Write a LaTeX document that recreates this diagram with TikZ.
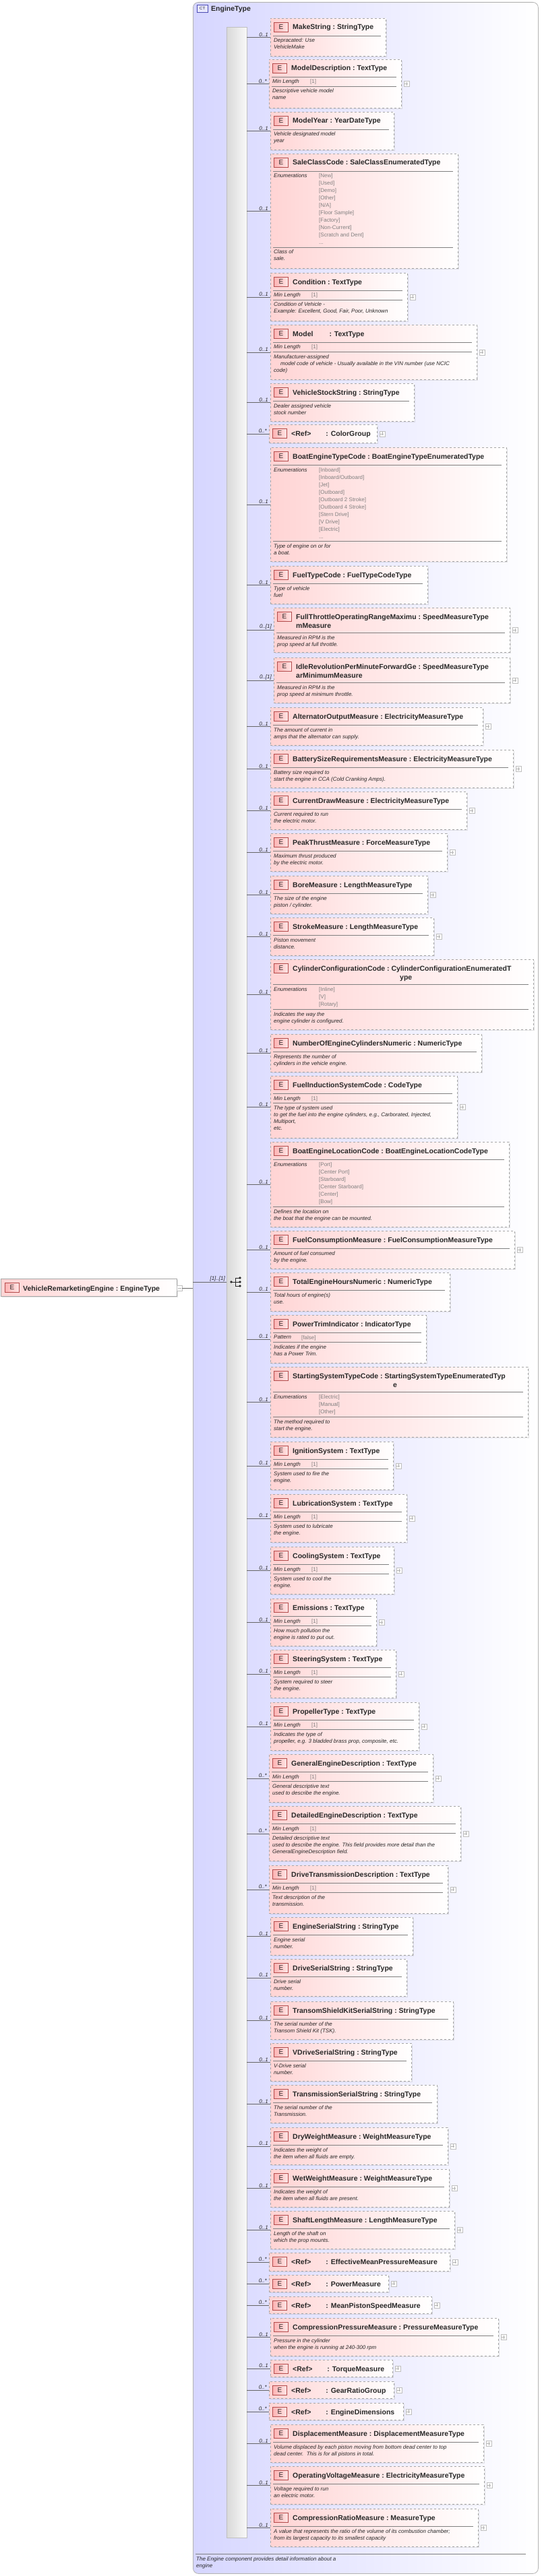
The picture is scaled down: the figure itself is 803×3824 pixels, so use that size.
\documentclass[tikz,border=0pt]{standalone}
\usepackage{fontspec}
\setmainfont{Liberation Sans}
\usetikzlibrary{shadows,calc}
\definecolor{pinkL}{RGB}{255,212,212}
\definecolor{lav}{RGB}{214,214,255}
\definecolor{txt}{RGB}{40,40,40}
\tikzset{
 x=1pt,y=-1pt,
 ebox/.style={draw=gray!70,dashed,line width=0.9pt,left color=pinkL,right color=white,inner sep=0pt,
   drop shadow={opacity=0.2,shadow xshift=2pt,shadow yshift=-2pt}},
 rootbox/.style={draw=gray!70,line width=0.9pt,left color=pinkL,right color=white,inner sep=0pt,
   drop shadow={opacity=0.2,shadow xshift=2pt,shadow yshift=-2pt}},
 eicon/.style={draw=red!40!gray,line width=0.7pt,left color=red!30,right color=red!10,minimum width=21pt,minimum height=14pt,inner sep=0pt,font=\fontsize{10}{10}\selectfont,text=txt},
 etitle/.style={inner sep=0pt,font=\fontsize{10.5}{13}\selectfont\bfseries,text=txt,align=left},
 edesc/.style={inner sep=0pt,font=\fontsize{8}{10}\selectfont\itshape,text=txt,align=left},
 eval/.style={inner sep=0pt,font=\fontsize{8}{11}\selectfont,text=gray,align=left},
 mult/.style={inner sep=1pt,font=\fontsize{8}{9}\selectfont\itshape,text=txt},
 conn/.style={draw=gray!80!black,line width=0.6pt},
 sep/.style={draw=gray,line width=0.7pt},
 plusbox/.style={draw=gray!50,fill=white,minimum size=8pt,inner sep=0pt,
   path picture={\draw[gray!60,line width=0.5pt] (path picture bounding box.west)++(1.5,0)--++(5,0);
                 \draw[gray!60,line width=0.5pt] (path picture bounding box.north)++(0,1.5)--++(0,5);}},
 minusbox/.style={draw=gray!50,fill=white,minimum size=8pt,inner sep=0pt,
   path picture={\draw[gray!60,line width=0.5pt] (path picture bounding box.west)++(1.5,0)--++(5,0);}},
}
\newcommand\en[1]{\relax[#1]}
% id, left, top, bottom, right, mult
\newcommand\EL[6]{%
 \node[ebox,anchor=north west,minimum width=#5-#2,minimum height=#4-#3] (#1) at (#2,#3) {};
 \draw[conn] (#1.west -| seq.east) -- (#1.west);
 \node[mult,anchor=south east] at ([xshift=-2pt]#1.west) {#6};
 \node[eicon,anchor=north west] at ([shift={(5,6)}]#1.north west) {E};}
\newcommand\ET[2]{\node[etitle,anchor=base west] at ([shift={(33,17)}]#1.north west) {#2};}
\newcommand\ETb[3]{\node[etitle,anchor=base west] at ([shift={(#2,30)}]#1.north west) {#3};}
\newcommand\EH[2]{\draw[sep] ([shift={(4,#2)}]#1.north west) -- ([shift={(-8,#2)}]#1.north east);}
\newcommand\EX[3]{\node[edesc,anchor=north west] at ([shift={(5,#2)}]#1.north west) {#3};}
\newcommand\EP[5]{\node[edesc,anchor=north west] at ([shift={(5,#2)}]#1.north west) {#3};
 \node[eval,anchor=north west] at ([shift={(#4,#2)}]#1.north west) {#5};}
\newcommand\EN[3]{\node[edesc,anchor=north west] at ([shift={(5,#2)}]#1.north west) {Enumerations};
 \node[eval,anchor=north west] at ([shift={(72,#2)}]#1.north west) {#3};}
\newcommand\PL[1]{\node[plusbox] at ([xshift=7pt]#1.east) {};}
\newcommand\SE[8]{\EL{#1}{#2}{#3}{#4}{#5}{#6}\ET{#1}{#7}\EH{#1}{26}\EX{#1}{30}{#8}}
\newcommand\ME[8]{\EL{#1}{#2}{#3}{#4}{#5}{#6}\ET{#1}{#7}\EH{#1}{26}\EP{#1}{30}{Min Length}{61}{\en{1}}\EH{#1}{40}\EX{#1}{44}{#8}}
\newcommand\RE[6]{\EL{#1}{#2}{#3}{#4}{#5}{#6}\ET{#1}{<Ref>\hspace{22pt}: #1}\PL{#1}}
\newcommand\cc{\ :\ }
\begin{document}
\begin{tikzpicture}
\useasboundingbox (0,0) rectangle (803,3824);
% container
\node[draw=gray!60,line width=0.8pt,rounded corners=8pt,left color=lav,right color=white,anchor=north west,minimum width=512,minimum height=3817,inner sep=0pt] (cont) at (286,3) {};
\node[draw=blue!40!gray,fill=lav!60,minimum width=16pt,minimum height=11pt,inner sep=0pt,anchor=north west,font=\fontsize{6}{6}\selectfont,text=txt] (cticon) at (292,7) {CT};
\node[etitle,anchor=base west] (ctname) at (313,17) {EngineType};
% sequence bar
\node[draw=gray!50,left color=gray!30,right color=gray!5,anchor=north west,minimum width=30,minimum height=3727,inner sep=0pt] (seq) at (336,40) {};
% root element
\node[rootbox,anchor=north west,minimum width=261,minimum height=26] (root) at (1,1898) {};
\node[eicon,anchor=north west] at ([shift={(6,6)}]root.north west) {E};
\node[etitle,anchor=base west] at ([shift={(33,18)}]root.north west) {VehicleRemarketingEngine\cc EngineType};
\node[minusbox] (rootm) at (266,1912) {};
\coordinate (cin) at (286,1912);
\coordinate (cin2) at (286,1903);
\coordinate (seqin) at (343,1903);
\draw[conn] (rootm.east) -- (cin);
\draw[conn] (cin2) -- (seq.west |- cin2);
\node[mult,anchor=south east] at (335,1903) {\en{1}..\en{1}};
% sequence symbol
\draw[line width=0.8pt,txt] (seqin) -- (349,1903) (349,1897) -- (349,1909) (349,1897) -- (355,1897) (349,1903) -- (355,1903) (349,1909) -- (355,1909);
\fill[txt] (seqin) circle (1.8) (356,1897) circle (1.8) (356,1903) circle (1.8) (356,1909) circle (1.8);

\SE{e1}{401}{27}{83}{572}{0..1}{MakeString\cc StringType}{Depracated: Use\\VehicleMake}
\ME{e2}{399}{88}{160}{595}{0..*}{ModelDescription\cc TextType}{Descriptive vehicle model\\name}\PL{e2}
\SE{e3}{401}{166}{222}{584}{0..1}{ModelYear\cc YearDateType}{Vehicle designated model\\year}
\EL{e4}{401}{228}{398}{679}{0..1}\ET{e4}{SaleClassCode\cc SaleClassEnumeratedType}\EH{e4}{26}
\EN{e4}{30}{\en{New}\\\en{Used}\\\en{Demo}\\\en{Other}\\\en{N/A}\\\en{Floor Sample}\\\en{Factory}\\\en{Non-Current}\\\en{Scratch and Dent}\\...}
\EH{e4}{139}\EX{e4}{143}{Class of\\sale.}
\ME{e5}{401}{405}{476}{604}{0..1}{Condition\cc TextType}{Condition of Vehicle -\\Example: Excellent, Good, Fair, Poor, Unknown}\PL{e5}
\ME{e6}{401}{482}{563}{707}{0..1}{Model\hspace{24pt}: TextType}{Manufacturer-assigned\\\hspace*{10pt}model code of vehicle - Usually available in the VIN number (use NCIC\\code)}\PL{e6}
\SE{e7}{401}{569}{625}{614}{0..1}{VehicleStockString\cc StringType}{Dealer assigned vehicle\\stock number}
\EL{ColorGroup}{399}{630}{657}{559}{0..*}\ET{ColorGroup}{<Ref>\hspace{22pt}: ColorGroup}\PL{ColorGroup}
\EL{e9}{401}{664}{833}{751}{0..1}\ET{e9}{BoatEngineTypeCode\cc BoatEngineTypeEnumeratedType}\EH{e9}{26}
\EN{e9}{30}{\en{Inboard}\\\en{Inboard/Outboard}\\\en{Jet}\\\en{Outboard}\\\en{Outboard 2 Stroke}\\\en{Outboard 4 Stroke}\\\en{Stern Drive}\\\en{V Drive}\\\en{Electric}\\...}
\EH{e9}{139}\EX{e9}{143}{Type of engine on or for\\a boat.}
\SE{e10}{401}{840}{896}{634}{0..1}{FuelTypeCode\cc FuelTypeCodeType}{Type of vehicle\\fuel}
\EL{e11}{406}{902}{968}{756}{0..\en{1}}\ET{e11}{FullThrottleOperatingRangeMaximu\cc SpeedMeasureType}\ETb{e11}{33}{mMeasure}
\EH{e11}{37}\EX{e11}{41}{Measured in RPM is the\\prop speed at full throttle.}\PL{e11}
\EL{e12}{406}{976}{1043}{756}{0..\en{1}}\ET{e12}{IdleRevolutionPerMinuteForwardGe\cc SpeedMeasureType}\ETb{e12}{33}{arMinimumMeasure}
\EH{e12}{37}\EX{e12}{41}{Measured in RPM is the\\prop speed at minimum throttle.}\PL{e12}
\SE{e13}{401}{1050}{1106}{716}{0..1}{AlternatorOutputMeasure\cc ElectricityMeasureType}{The amount of current in\\amps that the alternator can supply.}\PL{e13}
\SE{e14}{401}{1113}{1169}{761}{0..1}{BatterySizeRequirementsMeasure\cc ElectricityMeasureType}{Battery size required to\\start the engine in CCA (Cold Cranking Amps).}\PL{e14}
\SE{e15}{401}{1175}{1231}{692}{0..1}{CurrentDrawMeasure\cc ElectricityMeasureType}{Current required to run\\the electric motor.}\PL{e15}
\SE{e16}{401}{1237}{1293}{663}{0..1}{PeakThrustMeasure\cc ForceMeasureType}{Maximum thrust produced\\by the electric motor.}\PL{e16}
\SE{e17}{401}{1300}{1356}{634}{0..1}{BoreMeasure\cc LengthMeasureType}{The size of the engine\\piston / cylinder.}\PL{e17}
\SE{e18}{401}{1362}{1418}{643}{0..1}{StrokeMeasure\cc LengthMeasureType}{Piston movement\\distance.}\PL{e18}
\EL{e19}{401}{1424}{1528}{791}{0..1}\ET{e19}{CylinderConfigurationCode\cc CylinderConfigurationEnumeratedT}\ETb{e19}{192}{ype}
\EH{e19}{37}\EN{e19}{41}{\en{Inline}\\\en{V}\\\en{Rotary}}\EH{e19}{74}\EX{e19}{78}{Indicates the way the\\engine cylinder is configured.}
\SE{e20}{401}{1535}{1591}{714}{0..1}{NumberOfEngineCylindersNumeric\cc NumericType}{Represents the number of\\cylinders in the vehicle engine.}
\ME{e21}{401}{1597}{1689}{678}{0..1}{FuelInductionSystemCode\cc CodeType}{The type of system used\\to get the fuel into the engine cylinders, e.g., Carborated, Injected,\\Multiport,\\etc.}\PL{e21}
\EL{e22}{401}{1695}{1821}{755}{0..1}\ET{e22}{BoatEngineLocationCode\cc BoatEngineLocationCodeType}\EH{e22}{26}
\EN{e22}{30}{\en{Port}\\\en{Center Port}\\\en{Starboard}\\\en{Center Starboard}\\\en{Center}\\\en{Bow}}\EH{e22}{96}\EX{e22}{100}{Defines the location on\\the boat that the engine can be mounted.}
\SE{e23}{401}{1827}{1883}{763}{0..1}{FuelConsumptionMeasure\cc FuelConsumptionMeasureType}{Amount of fuel consumed\\by the engine.}\PL{e23}
\SE{e24}{401}{1889}{1946}{667}{0..1}{TotalEngineHoursNumeric\cc NumericType}{Total hours of engine(s)\\use.}
\EL{e25}{401}{1952}{2023}{632}{0..1}\ET{e25}{PowerTrimIndicator\cc IndicatorType}\EH{e25}{26}\EP{e25}{30}{Pattern}{46}{\en{false}}\EH{e25}{40}\EX{e25}{44}{Indicates if the engine\\has a Power Trim.}
\EL{e26}{401}{2029}{2133}{783}{0..1}\ET{e26}{StartingSystemTypeCode\cc StartingSystemTypeEnumeratedTyp}\ETb{e26}{182}{e}
\EH{e26}{37}\EN{e26}{41}{\en{Electric}\\\en{Manual}\\\en{Other}}\EH{e26}{74}\EX{e26}{78}{The method required to\\start the engine.}
\ME{e27}{401}{2140}{2211}{583}{0..1}{IgnitionSystem\cc TextType}{System used to fire the\\engine.}\PL{e27}
\ME{e28}{401}{2218}{2289}{603}{0..1}{LubricationSystem\cc TextType}{System used to lubricate\\the engine.}\PL{e28}
\ME{e29}{401}{2296}{2366}{584}{0..1}{CoolingSystem\cc TextType}{System used to cool the\\engine.}\PL{e29}
\ME{e30}{401}{2373}{2443}{558}{0..1}{Emissions\cc TextType}{How much pollution the\\engine is rated to put out.}\PL{e30}
\ME{e31}{401}{2449}{2520}{587}{0..1}{SteeringSystem\cc TextType}{System required to steer\\the engine.}\PL{e31}
\ME{e32}{401}{2527}{2598}{621}{0..1}{PropellerType\cc TextType}{Indicates the type of\\propeller, e.g. 3 bladded brass prop, composite, etc.}\PL{e32}
\ME{e33}{399}{2604}{2675}{642}{0..*}{GeneralEngineDescription\cc TextType}{General descriptive text\\used to describe the engine.}\PL{e33}
\ME{e34}{399}{2681}{2762}{683}{0..*}{DetailedEngineDescription\cc TextType}{Detailed descriptive text\\used to describe the engine. This field provides more detail than the\\GeneralEngineDescription field.}\PL{e34}
\ME{e35}{399}{2769}{2840}{664}{0..*}{DriveTransmissionDescription\cc TextType}{Text description of the\\transmission.}\PL{e35}
\SE{e36}{401}{2846}{2902}{612}{0..1}{EngineSerialString\cc StringType}{Engine serial\\number.}
\SE{e37}{401}{2908}{2963}{603}{0..1}{DriveSerialString\cc StringType}{Drive serial\\number.}
\SE{e38}{401}{2971}{3027}{672}{0..1}{TransomShieldKitSerialString\cc StringType}{The serial number of the\\Transom Shield Kit (TSK).}
\SE{e39}{401}{3033}{3089}{610}{0..1}{VDriveSerialString\cc StringType}{V-Drive serial\\number.}
\SE{e40}{401}{3095}{3151}{648}{0..1}{TransmissionSerialString\cc StringType}{The serial number of the\\Transmission.}
\SE{e41}{401}{3158}{3213}{664}{0..1}{DryWeightMeasure\cc WeightMeasureType}{Indicates the weight of\\the item when all fluids are empty.}\PL{e41}
\SE{e42}{401}{3220}{3276}{666}{0..1}{WetWeightMeasure\cc WeightMeasureType}{Indicates the weight of\\the item when all fluids are present.}\PL{e42}
\SE{e43}{401}{3282}{3338}{674}{0..1}{ShaftLengthMeasure\cc LengthMeasureType}{Length of the shaft on\\which the prop mounts.}\PL{e43}
\RE{EffectiveMeanPressureMeasure}{399}{3344}{3371}{667}{0..*}
\RE{PowerMeasure}{399}{3377}{3402}{576}{0..*}
\RE{MeanPistonSpeedMeasure}{399}{3409}{3434}{640}{0..*}
\SE{e47}{401}{3441}{3497}{739}{0..1}{CompressionPressureMeasure\cc PressureMeasureType}{Pressure in the cylinder\\when the engine is running at 240-300 rpm}\PL{e47}
\RE{TorqueMeasure}{401}{3503}{3528}{582}{0..1}
\RE{GearRatioGroup}{399}{3535}{3560}{584}{0..*}
\RE{EngineDimensions}{399}{3567}{3592}{598}{0..*}
\SE{e51}{401}{3599}{3655}{717}{0..1}{DisplacementMeasure\cc DisplacementMeasureType}{Volume displaced by each piston moving from bottom dead center to top\\dead center.\ \ This is for all pistons in total.}\PL{e51}
\SE{e52}{401}{3661}{3717}{718}{0..1}{OperatingVoltageMeasure\cc ElectricityMeasureType}{Voltage required to run\\an electric motor.}\PL{e52}
\SE{e53}{401}{3724}{3780}{709}{0..1}{CompressionRatioMeasure\cc MeasureType}{A value that represents the ratio of the volume of its combustion chamber;\\from its largest capacity to its smallest capacity}\PL{e53}
% container footer
\draw[sep] (290,3791) -- (780,3791);
\node[edesc,anchor=north west] (foot) at (291,3795) {The Engine component provides detail information about a\\engine};
\end{tikzpicture}
\end{document}
